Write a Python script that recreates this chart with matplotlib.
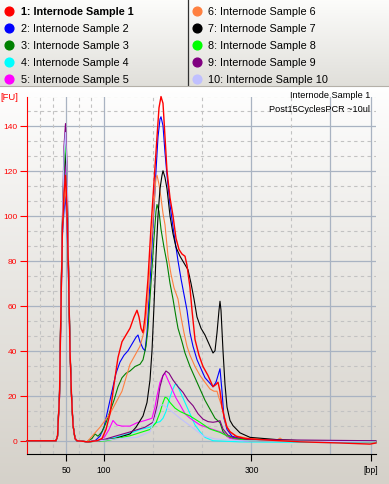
import numpy as np
import matplotlib
matplotlib.use("Agg")
import matplotlib.pyplot as plt

plt.rcParams['font.family'] = ['Liberation Sans', 'DejaVu Sans']

# electropherogram traces, migration time [s] vs fluorescence [FU]
# lower marker, shared time points
marker_t = [40.0, 45.8, 46.1, 46.5, 46.8, 47.1, 47.4, 47.7, 48.0, 48.3, 48.6, 48.9, 49.2, 49.6, 50.0, 52.2]
s1_peak = [0, 0, 2, 20, 60, 95, 110, 118, 104, 75, 40, 20, 7, 1, 0, -0.5]
s2_peak = [0, 0, 2, 19, 58, 92, 102, 109, 96, 72, 40, 20, 7, 1, 0, -0.5]
s3_peak = [0, 0, 2, 21, 62, 98, 122, 131, 115, 78, 41, 20, 7, 1, 0, -0.5]
s4_peak = [0, 0, 2, 20, 61, 96, 114, 123, 108, 76, 40, 20, 7, 1, 0, -0.5]
s5_peak = [0, 0, 2, 20, 61, 96, 115, 124, 109, 76, 40, 20, 7, 1, 0, -0.5]
s6_peak = [0, 0, 2, 20, 60, 94, 105, 113, 99, 74, 40, 20, 7, 1, 0, -0.5]
s7_peak = [0, 0, 2, 21, 62, 97, 119, 128, 113, 77, 41, 20, 7, 1, 0, -0.5]
s8_peak = [0, 0, 2, 21, 63, 99, 124, 133, 117, 78, 41, 20, 7, 1, 0, -0.5]
s9_peak = [0, 0, 2, 22, 64, 101, 131, 141, 124, 80, 42, 21, 7, 1, 0, -0.5]
s10_peak = [0, 0, 2, 21, 63, 100, 127, 137, 120, 79, 41, 20, 7, 1, 0, -0.5]

# library region
s1_t = [54.0, 55.0, 55.8, 56.6, 57.4, 58.2, 59.0, 59.8, 60.6, 61.4, 62.0, 62.4, 62.8, 63.2, 63.6, 64.2,
        64.8, 65.4, 66.0, 66.4, 66.8, 67.2, 67.6, 68.0, 68.6, 69.2, 69.8, 70.4, 71.0, 71.6, 72.0, 72.6,
        73.0, 73.6, 74.4, 75.2, 76.2, 77.2, 77.8, 78.2, 78.6, 79.0, 79.4, 80.0, 80.6, 81.8, 83.6, 86.6,
        94.6, 102.6, 108.6, 109.8]
s1_fu = [0, 1, 5, 12, 25, 37, 44, 47, 50, 55, 58, 55, 50, 48, 55, 72,
         95, 115, 135, 148, 153, 150, 135, 120, 108, 100, 90, 85, 83, 82, 78, 68,
         58, 45, 38, 33, 29, 24, 25, 26, 22, 15, 11, 6, 4, 2, 1, 0.5,
         -0.5, -1, -1.5, -1]

s2_t = [53.6, 54.6, 55.4, 56.2, 57.0, 57.8, 58.6, 59.4, 60.2, 61.0, 61.8, 62.2, 62.6, 63.2, 63.6, 64.0,
        64.6, 65.2, 65.8, 66.2, 66.6, 66.8, 67.2, 67.6, 68.0, 68.6, 69.2, 69.6, 70.2, 70.8, 71.4, 72.0,
        72.6, 73.2, 74.0, 74.8, 75.6, 76.4, 77.2, 77.8, 78.2, 78.6, 79.0, 79.4, 80.0, 81.0, 82.6, 86.6,
        109.8]
s2_fu = [0, 2, 6, 14, 22, 30, 35, 38, 40, 43, 46, 47, 44, 41, 40, 48,
         70, 95, 120, 135, 143, 144, 140, 128, 118, 105, 95, 89, 80, 72, 65, 58,
         48, 42, 36, 32, 28, 26, 24, 26, 29, 32, 22, 10, 5, 2, 1, 0,
         -0.5]

s3_t = [52.2, 53.0, 53.6, 54.2, 55.0, 55.8, 56.6, 57.4, 58.2, 59.0, 59.8, 60.6, 61.6, 62.6, 63.2, 63.8,
        64.2, 64.8, 65.4, 65.8, 66.0, 66.4, 66.8, 67.4, 68.0, 68.6, 69.2, 69.8, 70.2, 71.0, 71.6, 72.6,
        73.6, 74.6, 75.6, 76.6, 77.6, 78.6, 79.2, 80.0, 81.0, 83.6, 109.8]
s3_fu = [0, 1, 3, 2, 4, 8, 13, 18, 24, 28, 30, 31, 33, 34, 36, 42,
         50, 70, 90, 102, 105, 102, 94, 86, 79, 70, 63, 55, 50, 44, 39, 33,
         28, 23, 18, 14, 10, 8, 4, 2, 1, 0.5, -0.5]

s4_t = [54.6, 56.6, 58.6, 61.2, 62.6, 64.6, 65.8, 66.6, 67.2, 67.8, 68.4, 69.0, 69.6, 70.0, 70.6, 71.4,
        72.0, 72.8, 73.6, 74.6, 75.6, 77.2, 82.6, 109.8]
s4_fu = [0, 1, 2, 3.7, 5, 6, 8, 8.5, 10, 13, 18, 22, 25, 25, 22, 18,
         15, 11, 7, 4, 1.5, 0, -0.5, -1]

s5_t = [54.6, 55.6, 56.4, 57.2, 58.0, 59.0, 60.6, 62.0, 63.6, 65.0, 65.6, 66.0, 66.6, 67.2, 67.6, 68.2,
        69.0, 69.8, 70.6, 71.6, 72.6, 74.6, 77.2, 79.0, 80.6, 83.6, 109.8]
s5_fu = [0, 2, 5, 9, 7, 6.5, 6.5, 8, 9, 10, 15, 20, 26, 29, 30, 27,
         23, 19, 16, 12, 10, 7, 5, 3.7, 1, 0, -0.5]

s6_t = [52.2, 53.0, 53.8, 54.6, 55.6, 56.6, 57.8, 59.0, 59.8, 60.6, 61.6, 62.6, 63.6, 64.2, 64.8, 65.4,
        65.8, 66.0, 66.4, 66.8, 67.2, 67.6, 68.2, 68.8, 69.4, 70.2, 70.8, 71.4, 72.0, 72.6, 73.6, 74.6,
        75.6, 76.6, 77.4, 78.0, 78.4, 79.0, 79.8, 80.6, 82.0, 84.6, 90.0, 90.6, 91.2, 94.6, 109.8]
s6_fu = [0, 2, 4, 6, 9, 12, 17, 22, 28, 34, 38, 42, 50, 64, 85, 105,
         117, 118, 114, 108, 101, 96, 82, 74, 68, 63, 55, 48, 42, 38, 33, 29,
         26, 23, 22, 22, 19, 15, 7, 4, 2, 1, 0.3, 1.2, 0.3, 0, -0.5]

s7_t = [54.6, 57.6, 60.6, 61.8, 63.2, 64.0, 64.6, 65.0, 65.4, 65.8, 66.2, 66.6, 67.0, 67.2, 67.6, 68.0,
        68.6, 69.2, 69.8, 70.6, 71.4, 72.2, 72.8, 73.4, 74.0, 74.8, 75.6, 76.4, 77.2, 77.6, 78.0, 78.4,
        78.6, 78.8, 79.2, 79.6, 80.0, 80.6, 81.2, 82.6, 84.6, 90.0, 94.6, 109.8]
s7_fu = [0, 1, 3, 6, 11, 17, 27, 40, 60, 82, 100, 112, 118, 120, 117, 112,
         100, 92, 86, 82, 79, 76, 70, 63, 55, 50, 47, 43, 39, 40, 48, 58,
         62, 58, 40, 25, 15, 9, 6.7, 3.5, 1.5, 0.5, 0, -0.3]

s8_t = [55.8, 60.6, 64.6, 65.8, 66.6, 67.2, 67.6, 68.0, 68.6, 69.6, 70.6, 72.6, 74.6, 76.6, 78.6, 80.0,
        81.6, 84.6, 109.8]
s8_fu = [0, 2.2, 5, 8, 12.6, 17, 19.3, 19, 17, 14.5, 13, 11, 8.2, 5.2, 3.7, 2.2,
         1, 0, -0.5]

s9_t = [54.6, 57.6, 60.6, 63.6, 65.2, 66.0, 66.6, 67.2, 67.8, 68.4, 69.2, 70.2, 71.2, 72.2, 73.2, 74.2,
        75.2, 76.2, 77.2, 78.0, 78.6, 79.2, 80.2, 81.2, 84.6, 109.8]
s9_fu = [0, 2, 3.9, 6, 8.2, 15.6, 24, 29, 31, 30, 27, 24, 21.5, 18, 15.6, 12,
         9.6, 8.5, 8.2, 8.5, 8.9, 5.2, 2.5, 1.5, 0.5, 0]

s10_t = [54.6, 58.6, 62.0, 64.6, 65.6, 66.2, 66.6, 67.2, 68.0, 69.2, 70.6, 72.6, 75.2, 77.6, 82.6, 109.8]
s10_fu = [0, 1, 1.5, 4, 10, 14, 15.6, 16, 14.5, 12.6, 10, 6.7, 2.2, 0.8, 0, -0.5]

names = ["1: Internode Sample 1", "2: Internode Sample 2", "3: Internode Sample 3",
         "4: Internode Sample 4", "5: Internode Sample 5", "6: Internode Sample 6",
         "7: Internode Sample 7", "8: Internode Sample 8", "9: Internode Sample 9",
         "10: Internode Sample 10"]
colors = ["#ff0000", "#0000ff", "#008000", "#00ffff", "#ff00ff",
          "#ff8040", "#000000", "#00ff00", "#800080", "#c0c0ff"]

peaks = [s1_peak, s2_peak, s3_peak, s4_peak, s5_peak, s6_peak, s7_peak, s8_peak, s9_peak, s10_peak]
lib_t = [s1_t, s2_t, s3_t, s4_t, s5_t, s6_t, s7_t, s8_t, s9_t, s10_t]
lib_fu = [s1_fu, s2_fu, s3_fu, s4_fu, s5_fu, s6_fu, s7_fu, s8_fu, s9_fu, s10_fu]

# ladder ticks and grid (time positions)
bp_ticks = [47.9, 55.4, 84.9, 108.7]
bp_labels = ["50", "100", "300", "[bp]"]
vgrid_major = [47.9, 55.4, 84.9, 100.6, 108.7]
vgrid_minor = [42.6, 45.2, 50.4, 52.8, 65.2, 75.0, 92.8]

W, H = 389, 485
fig = plt.figure(figsize=(W / 100, H / 100), dpi=100)


def fx(px):
    return px / W


def fy(py):
    return 1 - py / H


# background gradients
bg = fig.add_axes([0, 0, 1, 1], zorder=-10)
bg.axis("off")
r = np.arange(H)[:, None, None]
leg_top = np.array([0.99, 0.99, 0.985])
leg_bot = np.array([0.88, 0.875, 0.855])
pan_top = np.array([1.0, 1.0, 1.0])
pan_bot = np.array([0.835, 0.82, 0.79])
vl = np.clip(r / 86.0, 0, 1)
vp = np.clip((r - 87) / 398.0, 0, 1) ** 0.9
img = np.where(r < 87, leg_top + (leg_bot - leg_top) * vl, pan_top + (pan_bot - pan_top) * vp)
img = img * np.ones((1, W, 1))
bg.imshow(img, extent=[0, 1, 0, 1], aspect="auto", interpolation="bilinear")
bg.set_xlim(0, 1)
bg.set_ylim(0, 1)
bg.plot([fx(188), fx(188)], [fy(0), fy(86)], color="#303030", lw=0.9)
bg.plot([0, 1], [fy(86.5), fy(86.5)], color="#b4b0a8", lw=0.8)

# legend
for i, (name, c) in enumerate(zip(names, colors)):
    col, row = divmod(i, 5)
    yy = fy(11.7 + row * 17)
    mx = fx(9) if col == 0 else fx(197)
    tx = fx(21) if col == 0 else fx(208)
    bg.plot(mx, yy, "o", ms=6.3, color=c, mec=c)
    bg.text(tx, yy, name, fontsize=7.8, va="center", ha="left",
            fontweight="bold" if i == 0 else "normal", color="#000000")

# main plot
ax = fig.add_axes([fx(27), fy(455), fx(376) - fx(27), fy(98) - fy(455)])
ax.patch.set_alpha(0)
ax.set_xlim(40.0, 109.8)
ax.set_ylim(-5.9, 152.8)

for v in np.arange(0, 160, 20 / 3):
    if abs(v / 20 - round(v / 20)) < 1e-6:
        ax.axhline(v, color="#a9b3c2", lw=0.9, zorder=0)
    else:
        ax.axhline(v, color="#c2c2c2", lw=0.8, ls=(0, (3, 3)), zorder=0)
for v in vgrid_major:
    ax.axvline(v, color="#a9b3c2", lw=0.9, zorder=0)
for v in vgrid_minor:
    ax.axvline(v, color="#c2c2c2", lw=0.8, ls=(0, (3, 3)), zorder=0)

for i in list(range(1, 10)) + [0]:
    t = marker_t + lib_t[i]
    fu = peaks[i] + lib_fu[i]
    ax.plot(t, fu, color=colors[i], lw=0.8 if i else 1.0, clip_on=False, zorder=3 if i else 4)

for s in ["top", "right"]:
    ax.spines[s].set_visible(False)
ax.spines["left"].set_color("#ff0000")
ax.spines["bottom"].set_color("#000000")
ax.set_yticks(range(0, 141, 20))
ax.tick_params(axis="y", colors="#ff0000", labelsize=6, length=5, width=0.8, pad=2)
ax.set_xticks(bp_ticks)
ax.set_xticklabels(bp_labels)
ax.tick_params(axis="x", colors="#000000", labelsize=6.2, length=5, width=0.8, pad=3)

fig.text(fx(0), fy(98), "[FU]", color="#ff0000", fontsize=6.8, va="center", ha="left")
fig.text(fx(370), fy(95), "Internode Sample 1", fontsize=6.6, ha="right", va="center")
fig.text(fx(370), fy(110), "Post15CyclesPCR ~10ul", fontsize=6.6, ha="right", va="center")

fig.savefig("out.png", dpi=100)
